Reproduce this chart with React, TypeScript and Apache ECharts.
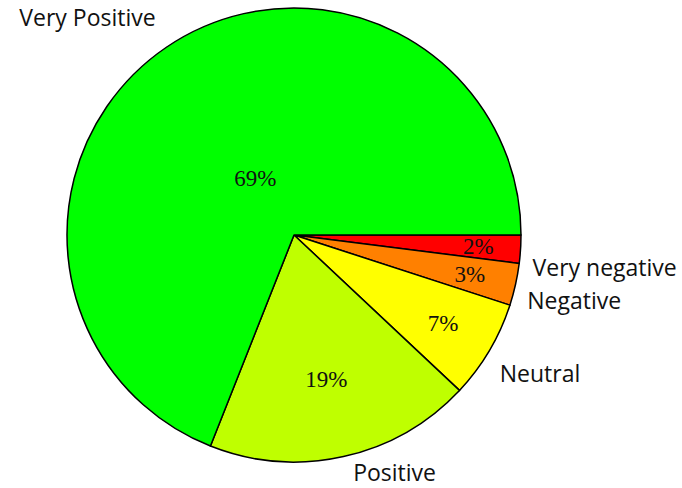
import React, { useEffect, useRef } from "react";
import * as echarts from "echarts";

const categories = ["Very negative", "Negative", "Neutral", "Positive", "Very Positive"];
const values = [2, 3, 7, 19, 69];
const colors = ["#ff0000", "#ff8000", "#ffff00", "#bfff00", "#00ff00"];

// styling: radial position of the percentage label (fraction of radius)
const innerLabelRadius = [0.8, 0.78, 0.75, 0.64, 0.29];
// styling: nudges [dx, dy] for the outer name labels
const outerLabelNudge = [
  [0, 17],
  [0, 13],
  [0, 16],
  [7, 4],
  [-4, -20],
];

const CX = 294;
const CY = 235;
const R = 227;

export default function App() {
  const ref = useRef<HTMLDivElement>(null);
  useEffect(() => {
    const chart = echarts.init(ref.current!, null, { renderer: "svg" });
    const total = values.reduce((a, b) => a + b, 0);
    let acc = 0;
    const innerData = values.map((v, i) => {
      const mid = ((acc + v / 2) / total) * Math.PI * 2;
      acc += v;
      const k = innerLabelRadius[i] - 0.5;
      return {
        value: v,
        name: categories[i],
        label: { offset: [Math.cos(mid) * R * k, Math.sin(mid) * R * k] },
      };
    });
    const outerData = values.map((v, i) => ({
      value: v,
      name: categories[i],
      itemStyle: { color: colors[i] },
      label: { offset: outerLabelNudge[i] },
    }));
    chart.setOption({
      animation: false,
      series: [
        {
          type: "pie",
          center: [CX, CY],
          radius: R,
          startAngle: 0,
          clockwise: true,
          avoidLabelOverlap: false,
          data: outerData,
          itemStyle: { borderColor: "#000", borderWidth: 1.5 },
          label: {
            position: "outside",
            formatter: "{b}",
            fontFamily: "Open Sans",
            fontSize: 23,
            lineHeight: 24,
            color: "#111",
            distanceToLabelLine: 0,
          },
          labelLine: { show: false, length: 12, length2: 0 },
          emphasis: { disabled: true },
          silent: true,
        },
        {
          type: "pie",
          center: [CX, CY],
          radius: R,
          startAngle: 0,
          clockwise: true,
          avoidLabelOverlap: false,
          data: innerData,
          itemStyle: { color: "transparent", borderWidth: 0 },
          label: {
            position: "inside",
            formatter: "{c}%",
            fontFamily: "Liberation Serif",
            fontSize: 23,
            color: "#111",
          },
          labelLine: { show: false },
          emphasis: { disabled: true },
          silent: true,
        },
      ],
    });
    return () => chart.dispose();
  }, []);
  return (
    <div
      ref={ref}
      style={{ position: "fixed", left: 0, top: 0, width: 682, height: 488, background: "#fff" }}
    />
  );
}
